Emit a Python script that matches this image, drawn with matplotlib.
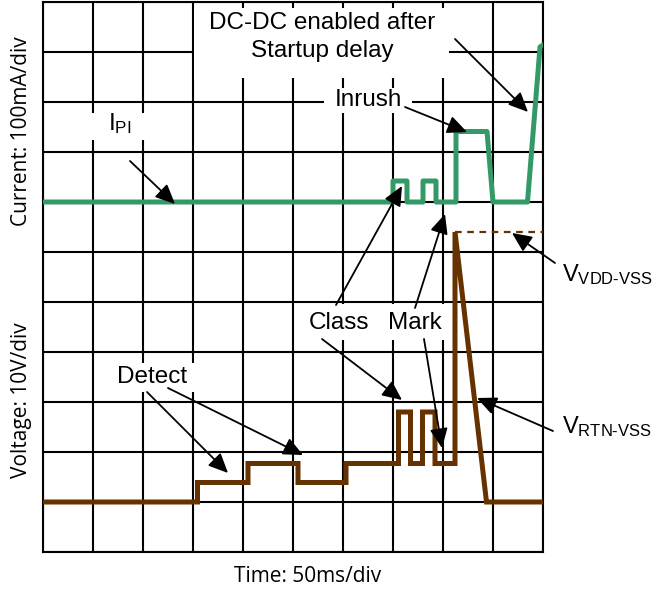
import matplotlib.pyplot as plt
from matplotlib.patches import Rectangle

plt.rcParams["mathtext.default"] = "regular"

# time axis and levels in scope divisions (10 x 11 grid)
cur_time = [0, 7.0, 7.0, 7.28, 7.28, 7.6, 7.6, 7.86, 7.86, 8.26, 8.26, 8.88, 9.0, 9.69, 9.94, 10.0]
cur_level = [7.0, 7.0, 7.42, 7.42, 7.0, 7.0, 7.42, 7.42, 7.0, 7.0, 8.41, 8.41, 7.0, 7.0, 10.1, 10.14]

volt_time = [0, 3.09, 3.09, 4.1, 4.1, 5.1, 5.1, 6.06, 6.06, 7.11, 7.11, 7.35, 7.35, 7.59, 7.59,
             7.84, 7.84, 8.24, 8.24, 8.87, 10.0]
volt_level = [1.0, 1.0, 1.39, 1.39, 1.77, 1.77, 1.39, 1.39, 1.77, 1.77, 2.8, 2.8, 1.77, 1.77, 2.8,
              2.8, 1.77, 1.77, 6.4, 1.0, 1.0]

vdd_time = [8.24, 10.0]
vdd_level = [6.4, 6.4]

GREEN = "#339966"
BROWN = "#663300"
FONT = "Liberation Sans"
LABEL_FONT = "Open Sans"

fig = plt.figure(figsize=(6.61, 5.91), dpi=100)
ax = fig.add_axes([43 / 661, 39 / 591, 500 / 661, 550 / 591])
ax.set_xlim(0, 10)
ax.set_ylim(0, 11)
ax.set_xticks(range(11))
ax.set_yticks(range(12))
ax.tick_params(length=0, labelbottom=False, labelleft=False)
ax.grid(True, color="black", linewidth=1.5)
ax.set_axisbelow(True)
for spine in ax.spines.values():
    spine.set_linewidth(1.5)

# white label backgrounds that hide the grid
boxes = [
    (3.02, 9.48, 5.1, 1.4),
    (5.62, 8.78, 1.76, 0.5),
    (0.94, 8.24, 1.12, 0.54),
    (5.06, 4.24, 3.02, 0.72),
    (1.4, 3.2, 1.64, 0.58),
]
for x0, y0, w, h in boxes:
    ax.add_patch(Rectangle((x0, y0), w, h, facecolor="white", edgecolor="none", zorder=1.5))

ax.plot(cur_time, cur_level, color=GREEN, linewidth=3.6, solid_joinstyle="round",
        solid_capstyle="round", zorder=3)
ax.plot(volt_time, volt_level, color=BROWN, linewidth=3.6, solid_joinstyle="miter", zorder=3)
ax.plot(vdd_time, vdd_level, color=BROWN, linewidth=1.6, linestyle=(0, (3, 2.5)), zorder=3,
        clip_on=False)

txt = dict(fontfamily=FONT, fontsize=17.5, ha="center", va="center", zorder=5)
ax.text(5.58, 10.3, "DC-DC enabled after\nStartup delay", linespacing=1.4, **txt)
ax.text(6.5, 9.04, "Inrush", **txt)
ax.text(1.54, 8.56, "I$_{PI}$", **txt)
ax.text(5.93, 4.58, "Class", **txt)
ax.text(7.43, 4.58, "Mark", **txt)
ax.text(2.19, 3.5, "Detect", **txt)
ax.text(10.38, 5.54, "V$_{VDD\u2010VSS}$", fontfamily=FONT, fontsize=17, ha="left", va="center",
        clip_on=False)
ax.text(10.38, 2.5, "V$_{RTN\u2010VSS}$", fontfamily=FONT, fontsize=17, ha="left", va="center",
        clip_on=False)

arrows = [
    ((8.24, 10.26), (9.70, 8.80)),
    ((7.24, 8.90), (8.48, 8.40)),
    ((1.74, 7.82), (2.64, 6.96)),
    ((5.86, 4.94), (7.18, 7.32)),
    ((5.58, 4.26), (7.18, 3.04)),
    ((7.44, 4.88), (8.04, 6.76)),
    ((7.62, 4.26), (7.98, 2.08)),
    ((2.08, 3.2), (3.70, 1.58)),
    ((2.5, 3.28), (5.2, 1.94)),
    ((10.24, 5.78), (9.38, 6.38)),
    ((10.2, 2.42), (8.68, 3.08)),
]
for tail, head in arrows:
    ax.annotate("", xy=head, xytext=tail, annotation_clip=False, zorder=6,
                arrowprops=dict(arrowstyle="-|>,head_length=0.7,head_width=0.32", color="black",
                                lw=1.3, shrinkA=0, shrinkB=0, mutation_scale=17))

fig.text(22 / 661, 1 - 131 / 591, "Current: 100mA/div", rotation=90, ha="center", va="center",
         fontfamily=LABEL_FONT, fontsize=15)
fig.text(22 / 661, 1 - 400 / 591, "Voltage: 10V/div", rotation=90, ha="center", va="center",
         fontfamily=LABEL_FONT, fontsize=15)
fig.text(308 / 661, 1 - 576 / 591, "Time: 50ms/div", ha="center", va="center",
         fontfamily=LABEL_FONT, fontsize=15)

fig.savefig("out.png", dpi=100)
